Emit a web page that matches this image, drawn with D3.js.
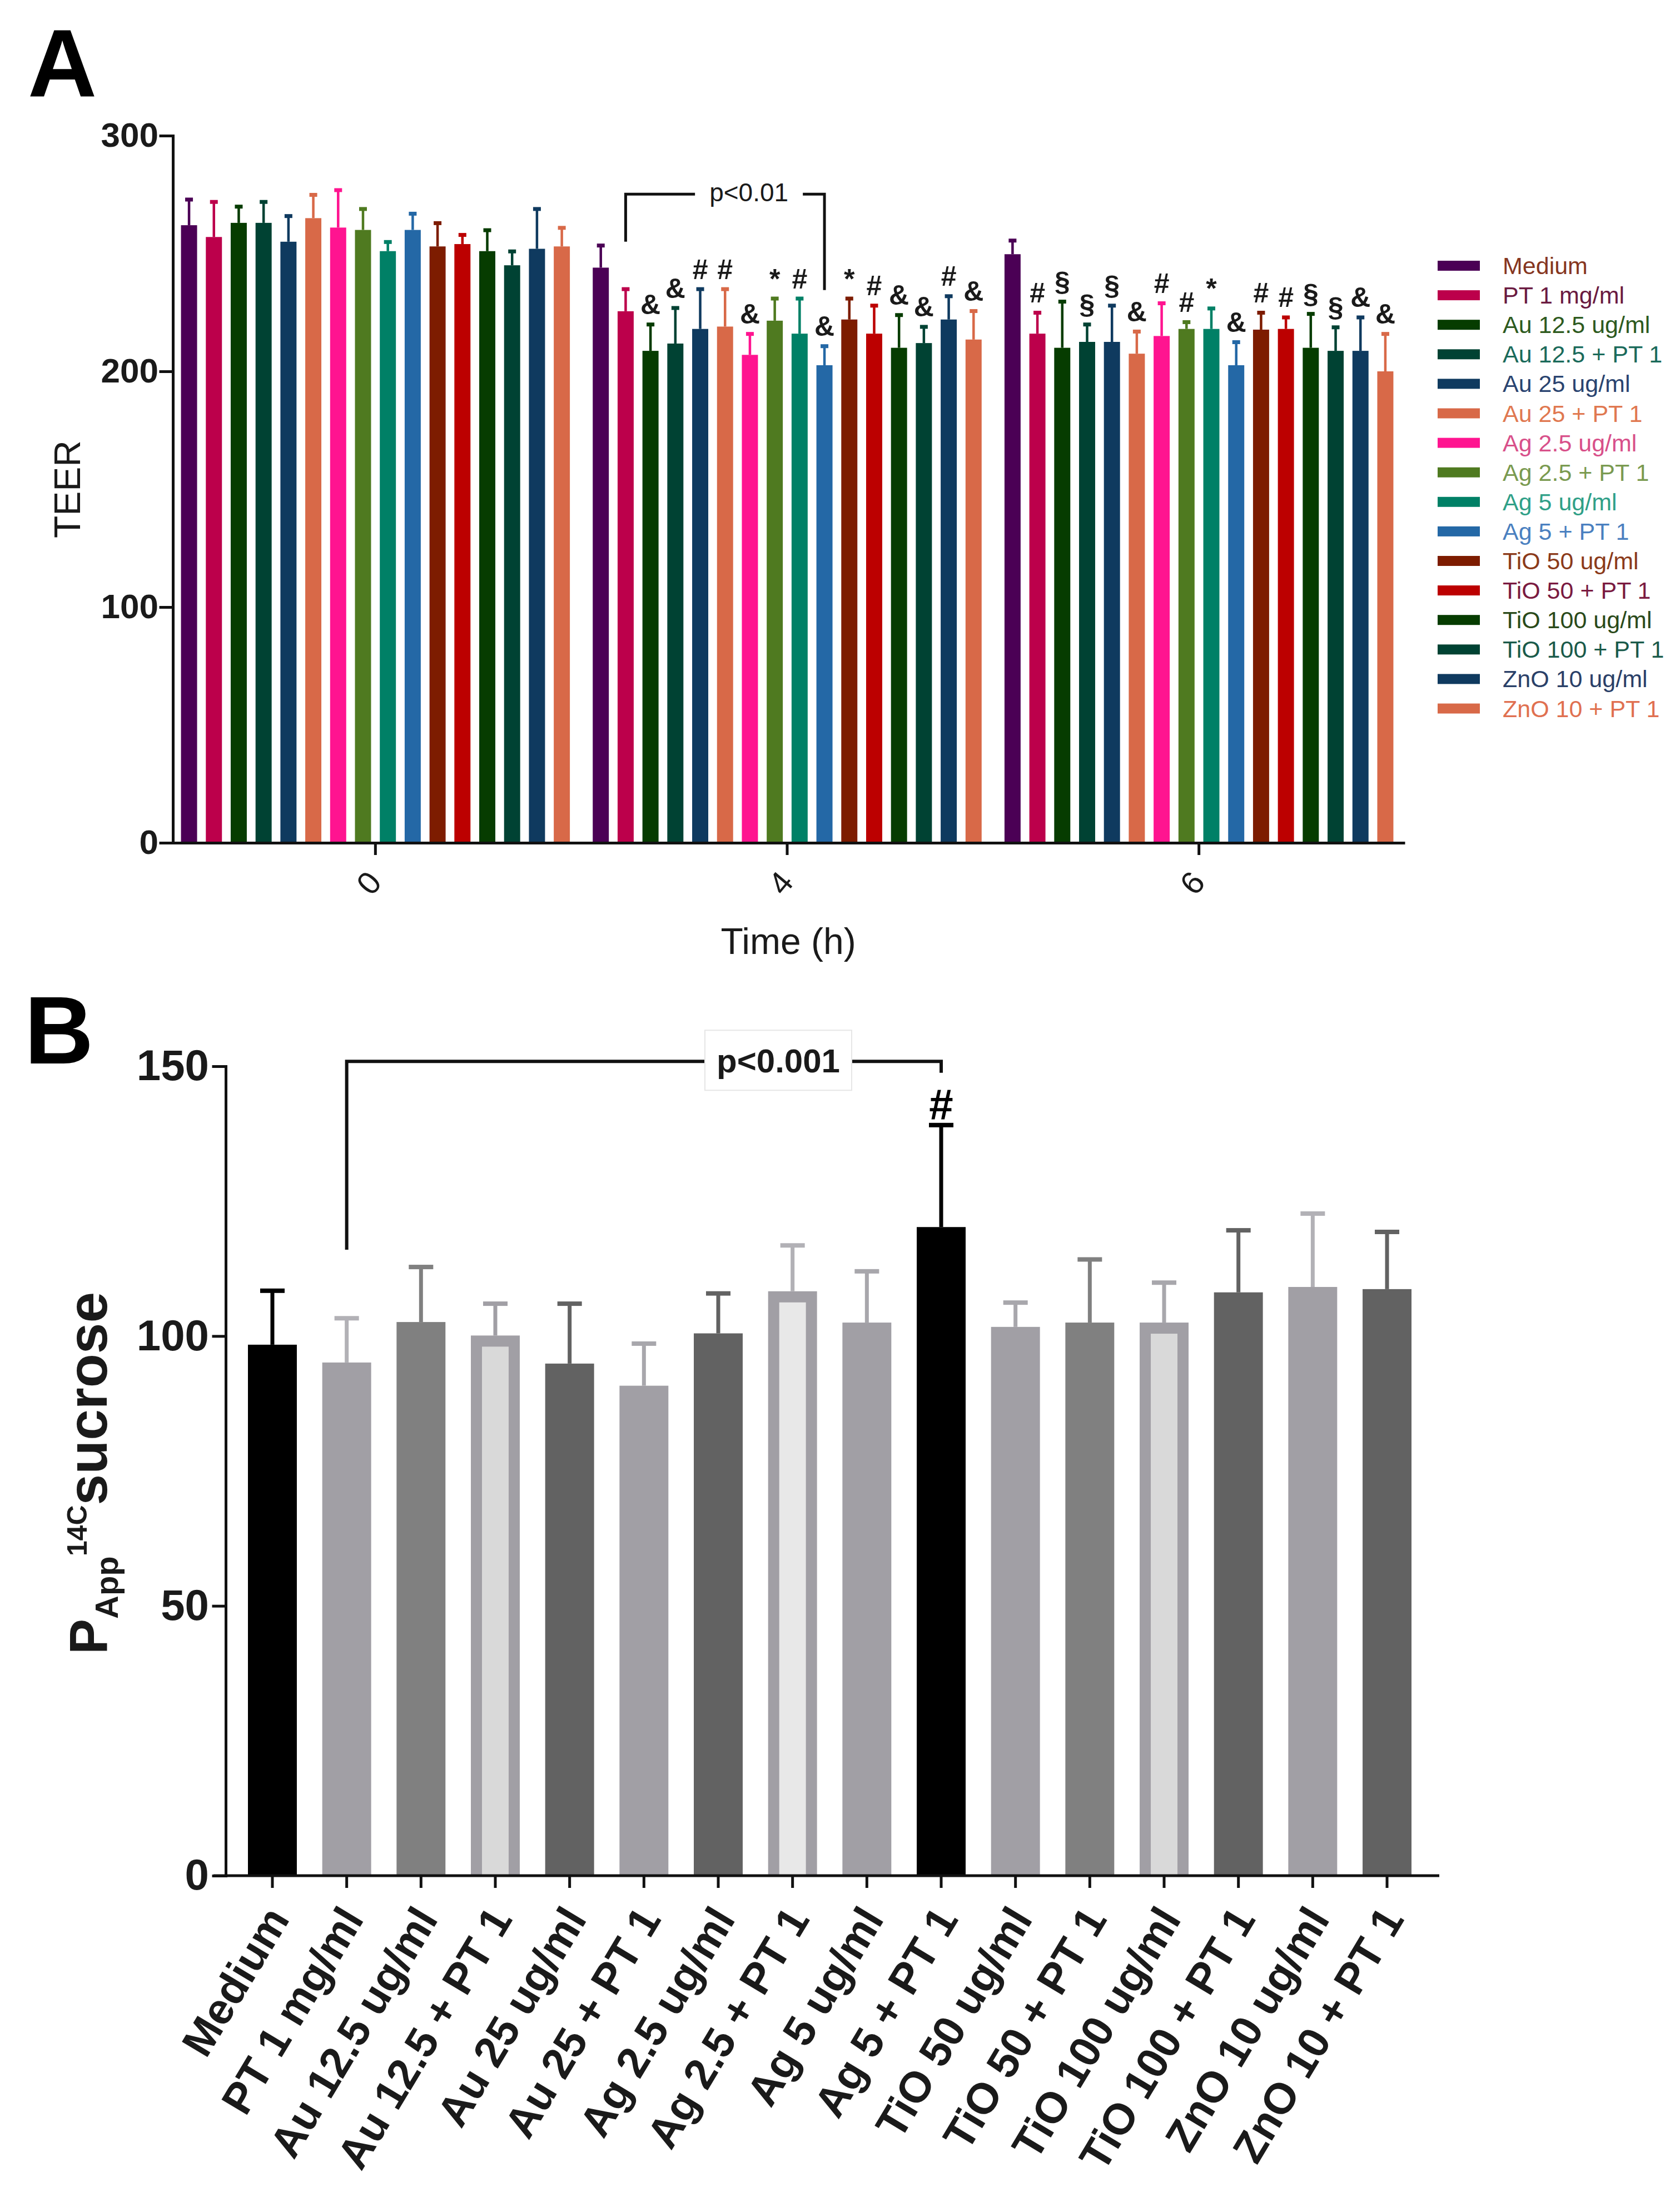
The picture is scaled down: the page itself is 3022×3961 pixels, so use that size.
<!DOCTYPE html>
<html>
<head>
<meta charset="utf-8">
<script src="https://cdn.jsdelivr.net/npm/d3@7"></script>
<style>
  body { margin: 0; background: #fff; }
  text { font-family: Arial, 'Liberation Sans', Helvetica, sans-serif; }
</style>
</head>
<body>
<div class="chart"></div>
<script>
// treatment groups (same order in both panels)
let series = [
  'Medium', 'PT 1 mg/ml', 'Au 12.5 ug/ml', 'Au 12.5 + PT 1', 'Au 25 ug/ml', 'Au 25 + PT 1',
  'Ag 2.5 ug/ml', 'Ag 2.5 + PT 1', 'Ag 5 ug/ml', 'Ag 5 + PT 1', 'TiO 50 ug/ml', 'TiO 50 + PT 1',
  'TiO 100 ug/ml', 'TiO 100 + PT 1', 'ZnO 10 ug/ml', 'ZnO 10 + PT 1',
]
let timeLabels = ['0', '4', '6']

// panel A - TEER, mean and SD per time point
let teerMean0 = [262, 257, 263, 263, 255, 265, 261, 260, 251, 260, 253, 254, 251, 245, 252, 253]
let teerSd0 = [11, 15, 7, 9, 11, 10, 16, 9, 4, 7, 10, 4, 9, 6, 17, 8]
let teerMean4 = [244, 225.5, 208.7, 211.8, 218, 219, 207, 221.5, 216, 202.6, 222, 216, 210, 212, 222, 213.5]
let teerSd4 = [9.5, 9.5, 11.3, 15.2, 17, 16, 9, 9.5, 15, 8.2, 9, 12, 14, 7, 10, 12.2]
let teerMean6 = [249.7, 216, 210, 212.5, 212.5, 207.5, 215, 218, 218, 202.6, 217.7, 218, 210, 208.7, 208.7, 200]
let teerSd6 = [5.9, 9, 19.7, 7.5, 15.5, 9.5, 14, 3, 8.8, 9.9, 7.3, 5, 14.5, 10.1, 14.3, 16]
let marks0 = ['', '', '', '', '', '', '', '', '', '', '', '', '', '', '', '']
let marks4 = ['', '', '&', '&', '#', '#', '&', '*', '#', '&', '*', '#', '&', '&', '#', '&']
let marks6 = ['', '#', '§', '§', '§', '&', '#', '#', '*', '&', '#', '#', '§', '§', '&', '&']
let teerTicks = [0, 100, 200, 300]

// panel B - Papp 14C sucrose
let pappMean = [98.4, 95.1, 102.6, 100.1, 94.9, 90.8, 100.5, 108.3, 102.5, 120.2, 101.7, 102.5, 102.5, 108.1, 109.1, 108.7]
let pappSd = [10, 8.2, 10.2, 5.9, 11.1, 7.8, 7.4, 8.5, 9.5, 18.9, 4.5, 11.7, 7.4, 11.5, 13.6, 10.6]
let pappMarks = ['', '', '', '', '', '', '', '', '', '#', '', '', '', '', '', '']
let pappTicks = [0, 50, 100, 150]

// colours
let barColors = [
  '#4b0055', '#bc004b', '#063c00', '#004233', '#0f3a5f', '#d86948', '#ff1490', '#4f7a20',
  '#008066', '#2468a6', '#7d1c00', '#bc0000', '#063c00', '#004233', '#0f3a5f', '#d86948',
]
let legendTextColors = [
  '#86361f', '#6a1a40', '#2d5a1e', '#1a6a5a', '#2a4470', '#e07850', '#d8508a', '#7a9a50',
  '#30a088', '#4a80c0', '#8b3a1a', '#7a1a40', '#2a4a1a', '#1a5a4a', '#2a4068', '#e07050',
]
let grayFill = [
  '#000000', '#a19fa5', '#808080', '#d9d9d9', '#626262', '#a19fa5', '#626262', '#e8e8e8',
  '#a19fa5', '#000000', '#a19fa5', '#808080', '#d9d9d9', '#626262', '#a19fa5', '#626262',
]
let grayBorder = [
  null, null, null, '#a19fa5', null, null, null, '#a19fa5',
  null, null, null, null, '#a19fa5', null, null, null,
]
let grayErr = [
  '#000000', '#b2b1b6', '#808080', '#a19fa5', '#626262', '#a8a7ac', '#626262', '#b2b1b6',
  '#a8a7ac', '#000000', '#a8a7ac', '#808080', '#a8a7ac', '#626262', '#b2b1b6', '#626262',
]

const ink = '#111'
const width = 3022
const height = 3961

const svg = d3
  .select('.chart')
  .append('svg')
  .attr('width', width)
  .attr('height', height)
  .style('background', '#fff')

/* ---------------- Panel A ---------------- */
const teerMeans = [teerMean0, teerMean4, teerMean6]
const teerSds = [teerSd0, teerSd4, teerSd6]
const teerMarks = [marks0, marks4, marks6]

let teer = []
timeLabels.forEach((t, g) => {
  series.forEach((s, i) => {
    teer.push({ t: t, s: s, i: i, mean: teerMeans[g][i], sd: teerSds[g][i], mark: teerMarks[g][i] })
  })
})

let xA = d3.scaleBand().domain(timeLabels).range([305, 2527])
let xA1 = d3
  .scaleBand()
  .domain(series)
  .range([0, xA.bandwidth()])
  .paddingInner(0.352)
  .paddingOuter(0.46)
let yA = d3.scaleLinear().domain([0, 300]).range([1516, 244])
const cxA = (t, s) => xA(t) + xA1(s) + xA1.bandwidth() / 2

svg
  .append('text')
  .attr('x', 50)
  .attr('y', 173)
  .text('A')
  .style('font-size', '172px')
  .style('font-weight', 'bold')
  .style('fill', '#000')

svg
  .selectAll('.barA')
  .data(teer)
  .enter()
  .append('rect')
  .attr('class', 'barA')
  .attr('x', (d) => xA(d.t) + xA1(d.s))
  .attr('y', (d) => yA(d.mean))
  .attr('width', xA1.bandwidth())
  .attr('height', (d) => yA(0) - yA(d.mean))
  .style('fill', (d) => barColors[d.i])

svg
  .selectAll('.errA')
  .data(teer)
  .enter()
  .append('line')
  .attr('class', 'errA')
  .attr('x1', (d) => cxA(d.t, d.s))
  .attr('x2', (d) => cxA(d.t, d.s))
  .attr('y1', (d) => yA(d.mean))
  .attr('y2', (d) => yA(d.mean + d.sd))
  .style('stroke', (d) => barColors[d.i])
  .style('stroke-width', 4.5)

svg
  .selectAll('.capA')
  .data(teer)
  .enter()
  .append('rect')
  .attr('class', 'capA')
  .attr('x', (d) => cxA(d.t, d.s) - 7)
  .attr('y', (d) => yA(d.mean + d.sd) - 3)
  .attr('width', 14)
  .attr('height', 7)
  .style('fill', (d) => barColors[d.i])

svg
  .selectAll('.markA')
  .data(teer.filter((d) => d.mark))
  .enter()
  .append('text')
  .attr('class', 'markA')
  .attr('x', (d) => cxA(d.t, d.s))
  .attr('y', (d) => yA(d.mean + d.sd) - 18)
  .attr('text-anchor', 'middle')
  .text((d) => d.mark)
  .style('font-size', '50px')
  .style('font-weight', 'bold')
  .style('fill', '#1a1a1a')

// axes A
let gyA = svg
  .append('g')
  .attr('transform', 'translate(311,0)')
  .call(d3.axisLeft(yA).tickValues(teerTicks).tickSize(22).tickSizeOuter(0).tickPadding(4))
gyA.selectAll('path, line').style('stroke', ink).style('stroke-width', 5).style('stroke-linecap', 'square')
gyA.selectAll('text').style('font-size', '62px').style('font-weight', 'bold').style('fill', '#1a1a1a')

let gxA = svg
  .append('g')
  .attr('transform', `translate(0,${yA(0)})`)
  .call(d3.axisBottom(xA).tickSize(22).tickSizeOuter(0))
gxA.selectAll('path, line').style('stroke', ink).style('stroke-width', 5)
gxA
  .selectAll('text')
  .attr('y', 0)
  .attr('dy', '0.35em')
  .attr('text-anchor', 'middle')
  .attr('transform', 'translate(-12,72) rotate(-50)')
  .style('font-size', '58px')
  .style('fill', '#1a1a1a')

svg
  .append('text')
  .attr('transform', `translate(144,${(yA(0) + yA(300)) / 2 + 0}) rotate(-90)`)
  .attr('text-anchor', 'middle')
  .text('TEER')
  .style('font-size', '66px')
  .style('fill', '#1a1a1a')

svg
  .append('text')
  .attr('x', 1418)
  .attr('y', 1716)
  .attr('text-anchor', 'middle')
  .text('Time (h)')
  .style('font-size', '66px')
  .style('fill', '#1a1a1a')

// bracket A: PT 1 vs Ag 5 + PT 1 at 4 h
{
  let xl = cxA('4', series[1])
  let xr = cxA('4', series[9])
  let yt = yA(275.2)
  svg
    .append('path')
    .attr('d', `M${xl},${yA(255)}V${yt}H${xr}V${yA(234.5)}`)
    .style('fill', 'none')
    .style('stroke', ink)
    .style('stroke-width', 5)
  let tx = xl + 0.62 * (xr - xl)
  svg
    .append('rect')
    .attr('x', tx - 97)
    .attr('y', yt - 30)
    .attr('width', 194)
    .attr('height', 60)
    .style('fill', '#fff')
  svg
    .append('text')
    .attr('x', tx)
    .attr('y', yt + 13)
    .attr('text-anchor', 'middle')
    .text('p<0.01')
    .style('font-size', '46px')
    .style('fill', '#1a1a1a')
}

// legend A
let legend = svg
  .selectAll('.legA')
  .data(series)
  .enter()
  .append('g')
  .attr('class', 'legA')
  .attr('transform', (d, i) => `translate(2586,${478 + i * 53.1})`)
legend
  .append('rect')
  .attr('x', 0)
  .attr('y', -9)
  .attr('width', 76)
  .attr('height', 18)
  .style('fill', (d, i) => barColors[i])
legend
  .append('text')
  .attr('x', 117)
  .attr('y', 0)
  .attr('dy', '0.35em')
  .text((d) => d)
  .style('font-size', '43px')
  .style('fill', (d, i) => legendTextColors[i])

/* ---------------- Panel B ---------------- */
let papp = series.map((s, i) => ({
  s: s,
  i: i,
  mean: pappMean[i],
  sd: pappSd[i],
  mark: pappMarks[i],
}))

let xB = d3.scaleBand().domain(series).range([446, 2539]).paddingInner(0.342).paddingOuter(0)
let yB = d3.scaleLinear().domain([0, 150]).range([3374, 1918])
const cxB = (s) => xB(s) + xB.bandwidth() / 2
const border = 20

svg
  .append('text')
  .attr('x', 44)
  .attr('y', 1913)
  .text('B')
  .style('font-size', '172px')
  .style('font-weight', 'bold')
  .style('fill', '#000')

svg
  .selectAll('.barB')
  .data(papp)
  .enter()
  .append('rect')
  .attr('class', 'barB')
  .attr('x', (d) => xB(d.s))
  .attr('y', (d) => yB(d.mean))
  .attr('width', xB.bandwidth())
  .attr('height', (d) => yB(0) - yB(d.mean))
  .style('fill', (d) => grayBorder[d.i] || grayFill[d.i])

svg
  .selectAll('.barBin')
  .data(papp.filter((d) => grayBorder[d.i]))
  .enter()
  .append('rect')
  .attr('class', 'barBin')
  .attr('x', (d) => xB(d.s) + border)
  .attr('y', (d) => yB(d.mean) + border)
  .attr('width', xB.bandwidth() - 2 * border)
  .attr('height', (d) => yB(0) - yB(d.mean) - border)
  .style('fill', (d) => grayFill[d.i])

svg
  .selectAll('.errB')
  .data(papp)
  .enter()
  .append('line')
  .attr('class', 'errB')
  .attr('x1', (d) => cxB(d.s))
  .attr('x2', (d) => cxB(d.s))
  .attr('y1', (d) => yB(d.mean))
  .attr('y2', (d) => yB(d.mean + d.sd))
  .style('stroke', (d) => grayErr[d.i])
  .style('stroke-width', 7)

svg
  .selectAll('.capB')
  .data(papp)
  .enter()
  .append('rect')
  .attr('class', 'capB')
  .attr('x', (d) => cxB(d.s) - 22)
  .attr('y', (d) => yB(d.mean + d.sd) - 4)
  .attr('width', 44)
  .attr('height', 8)
  .style('fill', (d) => grayErr[d.i])

svg
  .selectAll('.markB')
  .data(papp.filter((d) => d.mark))
  .enter()
  .append('text')
  .attr('class', 'markB')
  .attr('x', (d) => cxB(d.s))
  .attr('y', (d) => yB(d.mean + d.sd) - 10)
  .attr('text-anchor', 'middle')
  .text((d) => d.mark)
  .style('font-size', '78px')
  .style('font-weight', 'bold')
  .style('fill', '#000')

// axes B
let gyB = svg
  .append('g')
  .attr('transform', 'translate(406,0)')
  .call(d3.axisLeft(yB).tickValues(pappTicks).tickSize(22).tickSizeOuter(0).tickPadding(8))
gyB.selectAll('path, line').style('stroke', ink).style('stroke-width', 5).style('stroke-linecap', 'square')
gyB.selectAll('text').style('font-size', '78px').style('font-weight', 'bold').style('fill', '#1a1a1a')

let gxB = svg
  .append('g')
  .attr('transform', `translate(0,${yB(0)})`)
  .call(d3.axisBottom(xB).tickSize(22).tickSizeOuter(0))
gxB.select('.domain').remove()
gxB
  .append('line')
  .attr('x1', 384)
  .attr('x2', 2589)
  .style('stroke', ink)
  .style('stroke-width', 5)
gxB.selectAll('.tick line').style('stroke', ink).style('stroke-width', 5)
gxB
  .selectAll('.tick text')
  .attr('y', 0)
  .attr('dy', '0.35em')
  .attr('text-anchor', 'end')
  .attr('transform', 'translate(9,64) rotate(-59)')
  .style('font-size', '78px')
  .style('font-weight', 'bold')
  .style('fill', '#1a1a1a')

// y label: P_App ^14C sucrose
let ylab = svg
  .append('text')
  .attr('transform', 'translate(192,2976) rotate(-90)')
  .style('font-weight', 'bold')
  .style('fill', '#1a1a1a')
ylab.append('tspan').text('P').style('font-size', '96px')
ylab.append('tspan').attr('dy', 20).text('App').style('font-size', '58px')
ylab.append('tspan').attr('dy', -56).text('14C').style('font-size', '50px')
ylab.append('tspan').attr('dy', 36).text('sucrose').style('font-size', '100px')

// bracket B: PT 1 vs Ag 5 + PT 1
{
  let xl = cxB(series[1])
  let xr = cxB(series[9])
  let yt = yB(150.9)
  svg
    .append('path')
    .attr('d', `M${xl},${yB(116)}V${yt}H${xr}V${yB(148.8)}`)
    .style('fill', 'none')
    .style('stroke', ink)
    .style('stroke-width', 6)
  let tx = xl + 0.726 * (xr - xl)
  svg
    .append('rect')
    .attr('x', tx - 132)
    .attr('y', yt - 56)
    .attr('width', 264)
    .attr('height', 108)
    .style('fill', '#fff')
    .style('stroke', '#e6e6e6')
    .style('stroke-width', 2)
  svg
    .append('text')
    .attr('x', tx)
    .attr('y', yt + 20)
    .attr('text-anchor', 'middle')
    .text('p<0.001')
    .style('font-size', '60px')
    .style('font-weight', 'bold')
    .style('fill', '#1a1a1a')
}
</script>
</body>
</html>
